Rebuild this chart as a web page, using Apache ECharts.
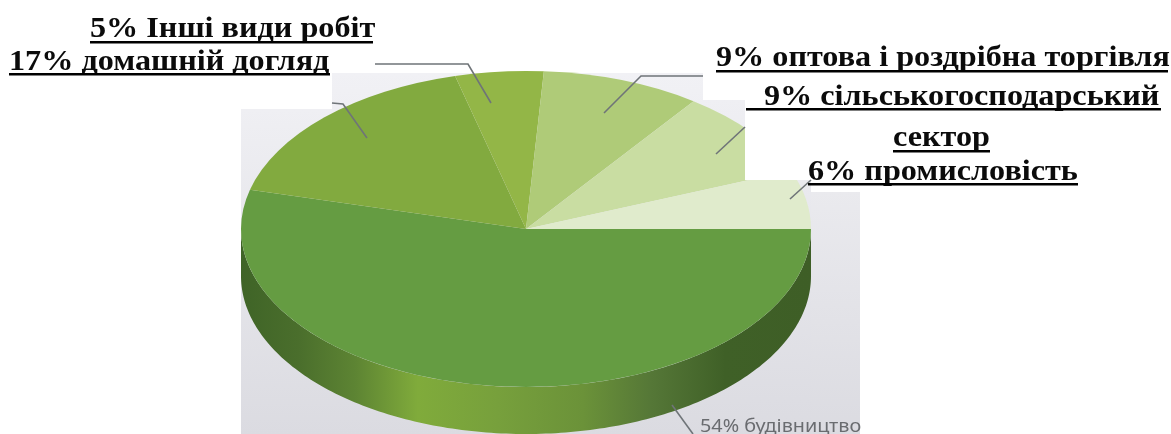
<!DOCTYPE html>
<html><head><meta charset="utf-8">
<style>html,body{margin:0;padding:0;background:#fff}#c{width:1171px;height:434px}</style>
<script src="https://cdn.jsdelivr.net/npm/echarts@6/dist/echarts.min.js"></script>
</head><body><div id="c"></div>
<script>
const categories = ['будівництво','домашній догляд','Інші види робіт','оптова і роздрібна торгівля','сільськогосподарський сектор','промисловість'];
const shares = [54,17,5,9,9,6];
const colors = ['#659c42','#82aa3f','#93b647','#afcb78','#c9dda2','#e0ebcc'];

const CX=526, CY=229, RX=285, RY=158, DEPTH=47;
const toRad = v => v/100*Math.PI*2;
const starts = shares.map((_,i)=>shares.slice(0,i).reduce((a,b)=>a+b,0));

function renderSlice(params, api){
  const i = params.dataIndex;
  const s = toRad(starts[i]), e = toRad(starts[i]+api.value(0));
  const children = [];
  if(i===0){
    const pts=[]; const end=Math.min(e,Math.PI);
    for(let a=0;a<=end+1e-6;a+=Math.PI/180) pts.push([CX+RX*Math.cos(a),CY+DEPTH+RY*Math.sin(a)]);
    for(let a=end;a>=-1e-6;a-=Math.PI/180) pts.push([CX+RX*Math.cos(a),CY+RY*Math.sin(a)]);
    children.push({type:'polygon',shape:{points:pts},style:{fill:new echarts.graphic.LinearGradient(0,0,1,0,[
      {offset:0,color:'#3f6427'},{offset:.1,color:'#4a6e2c'},{offset:.2,color:'#5d8433'},
      {offset:.31,color:'#80ab3b'},{offset:.45,color:'#77a03c'},{offset:.6,color:'#6b9239'},
      {offset:.72,color:'#557737'},{offset:.85,color:'#3f6027'},{offset:1,color:'#3e5e26'}])}});
  }
  children.push({type:'sector',x:CX,y:CY,scaleX:1,scaleY:RY/RX,
    shape:{cx:0,cy:0,r0:0,r:RX,startAngle:s,endAngle:e,clockwise:true},
    style:{fill:colors[i]}});
  return {type:'group',children};
}

const serif='bold 29px "Liberation Serif"';
const TEXT_STRETCH=1.11;
const labels=[
  {text:`${shares[2]}% ${categories[2]}`,x:90,y:44,u:[90,373,41]},
  {text:`${shares[1]}% ${categories[1]}`,x:9,y:77,u:[9,330,73]},
  {text:`${shares[3]}% ${categories[3]}`,x:716,y:73,u:[716,1168,70]},
  {text:`${shares[4]}% сільськогосподарський`,x:764,y:112,u:[746,1161,108]},
  {text:'сектор',x:893,y:153,u:[893,990,150]},
  {text:`${shares[5]}% ${categories[5]}`,x:808,y:187,u:[808,1078,183]}
];
const leaders=[
  [[332,103],[343,104],[367,138]],
  [[375,64],[468,64],[491,103]],
  [[703,76],[641,76],[604,113]],
  [[745,127],[716,154]],
  [[811,180],[790,199]],
  [[672,405],[693,434]]
];
const panelSteps=[[241,109,91,325],[332,73,371,361],[703,100,42,334],[745,180,66,254],[811,192,49,242]];
const masks=[[745,0,426,180],[811,180,360,12]];

const backG=[];
panelSteps.forEach(r=>{
  const top=r[1];
  backG.push({type:'rect',z:-1,shape:{x:r[0],y:top,width:r[2],height:r[3]},
    style:{fill:new echarts.graphic.LinearGradient(0,0,0,1,[
      {offset:0,color:echarts.color.lerp((top-69)/365,['#f1f1f5','#dbdbe1'])},{offset:1,color:'#dbdbe1'}])}});
});
const frontG=[];
masks.forEach(m=>frontG.push({type:'rect',z:8,shape:{x:m[0],y:m[1],width:m[2],height:m[3]},style:{fill:'#fff'}}));
leaders.forEach(p=>frontG.push({type:'polyline',z:10,shape:{points:p},style:{stroke:'#6f7478',lineWidth:1.6,fill:null}}));
labels.forEach(l=>{
  frontG.push({type:'text',z:20,x:l.x,y:l.y,scaleX:TEXT_STRETCH,style:{text:l.text,font:serif,fill:'#0b0b0b',verticalAlign:'bottom'}});
  frontG.push({type:'rect',z:20,shape:{x:l.u[0],y:l.u[2],width:l.u[1]-l.u[0],height:2.5},style:{fill:'#000'}});
});
frontG.push({type:'text',z:20,x:700,y:436,scaleX:1.07,style:{text:`${shares[0]}% ${categories[0]}`,font:'18.5px "Noto Sans"',fill:'#6a6c70',verticalAlign:'bottom'}});

const chart=echarts.init(document.getElementById('c'),null,{renderer:'canvas'});
chart.setOption({
  animation:false,
  backgroundColor:'#fff',
  graphic:{elements:backG.concat(frontG)},
  series:[{type:'custom',coordinateSystem:'none',z:5,renderItem:renderSlice,
    data:shares.map((v,i)=>({value:[v],name:categories[i]})),silent:true}]
});
</script></body></html>
